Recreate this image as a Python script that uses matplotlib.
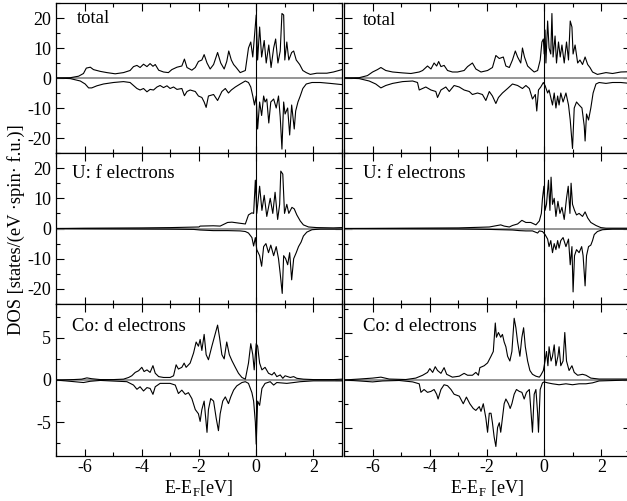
import numpy as np
import matplotlib
matplotlib.use("Agg")
import matplotlib.pyplot as plt
from matplotlib.ticker import MultipleLocator

plt.rcParams['font.family'] = ['Liberation Serif', 'DejaVu Serif']
plt.rcParams['mathtext.fontset'] = 'custom'
plt.rcParams['mathtext.rm'] = 'Liberation Serif'
plt.rcParams['axes.unicode_minus'] = False

# ---------------- data (energy in eV, DOS in states/(eV spin f.u.)) ----------------
left_total_up = [(-7.0, 0), (-6.50, 0.1), (-6.21, 0.6), (-6.04, 1.5), (-5.94, 3.3), (-5.80, 3.6),
    (-5.69, 2.8), (-5.45, 2.2), (-5.22, 1.8), (-4.93, 1.4), (-4.64, 1.8), (-4.41, 2.5), (-4.29, 3.8),
    (-4.17, 4.2), (-4.06, 3.5), (-3.94, 4.6), (-3.82, 3.8), (-3.71, 4.8), (-3.61, 3.9), (-3.53, 4.5),
    (-3.41, 2.6), (-3.24, 2.0), (-3.07, 1.8), (-2.95, 2.8), (-2.77, 3.6), (-2.60, 4.0), (-2.51, 6.3),
    (-2.42, 3.5), (-2.25, 2.6), (-2.13, 3.5), (-2.02, 5.5), (-1.90, 6.0), (-1.82, 7.8), (-1.72, 5.0),
    (-1.61, 3.0), (-1.49, 4.5), (-1.35, 8.5), (-1.24, 5.0), (-1.12, 3.0), (-1.03, 5.5), (-0.96, 9.0),
    (-0.87, 6.0), (-0.79, 4.5), (-0.70, 3.5), (-0.56, 1.8), (-0.38, 2.5), (-0.27, 10.0), (-0.19, 12.0),
    (-0.12, 7.0), (-0.06, 14.0), (0.0, 21.0), (0.05, 6.0), (0.12, 17.0), (0.19, 7.0), (0.28, 12.5),
    (0.35, 5.0), (0.44, 11.0), (0.52, 3.5), (0.61, 10.0), (0.68, 13.0), (0.76, 5.0), (0.84, 9.0),
    (0.90, 21.5), (0.96, 21.0), (1.00, 6.0), (1.07, 12.0), (1.14, 6.0), (1.24, 8.5), (1.31, 9.0),
    (1.40, 6.0), (1.52, 4.5), (1.63, 2.5), (1.75, 1.8), (1.89, 1.2), (2.12, 1.6), (2.47, 1.6),
    (2.70, 2.0), (3.0, 2.8)]
left_total_dn = [(-7.0, 0), (-6.50, -0.2), (-6.15, -1.0), (-5.98, -2.0), (-5.86, -3.3), (-5.75, -3.3),
    (-5.57, -2.6), (-5.34, -2.0), (-4.99, -1.5), (-4.64, -1.2), (-4.41, -1.5), (-4.29, -2.5),
    (-4.17, -3.5), (-4.06, -4.0), (-3.94, -3.5), (-3.82, -4.6), (-3.71, -3.8), (-3.59, -4.0),
    (-3.47, -3.0), (-3.36, -2.5), (-3.24, -3.2), (-3.12, -2.6), (-3.01, -3.5), (-2.89, -3.0),
    (-2.77, -3.8), (-2.60, -3.5), (-2.51, -5.9), (-2.42, -4.5), (-2.31, -4.0), (-2.13, -4.5),
    (-2.02, -6.0), (-1.90, -6.5), (-1.82, -8.0), (-1.75, -9.8), (-1.67, -6.0), (-1.49, -5.5),
    (-1.35, -7.5), (-1.20, -4.5), (-1.08, -3.5), (-0.97, -5.0), (-0.87, -4.0), (-0.73, -3.0),
    (-0.56, -2.0), (-0.38, -1.0), (-0.27, -1.5), (-0.19, -3.0), (-0.12, -6.0), (-0.06, -9.0),
    (0.0, -6.0), (0.05, -17.0), (0.12, -8.0), (0.19, -12.5), (0.26, -6.0), (0.31, -8.0), (0.37, -7.0),
    (0.44, -15.0), (0.51, -8.0), (0.61, -7.0), (0.70, -10.0), (0.78, -6.0), (0.84, -13.0),
    (0.90, -23.7), (0.96, -8.0), (1.01, -12.0), (1.10, -10.0), (1.17, -19.0), (1.24, -9.0),
    (1.33, -17.0), (1.38, -11.0), (1.46, -8.0), (1.54, -6.0), (1.63, -3.5), (1.75, -2.0),
    (1.95, -1.5), (2.24, -1.5), (2.59, -1.8), (3.0, -2.2)]

left_uf_up = [(-7.0, 0), (-6.0, 0.1), (-5.0, 0.15), (-4.0, 0.2), (-3.0, 0.3), (-2.0, 0.5), (-1.96, 0.8),
    (-1.5, 0.9), (-1.26, 0.8), (-1.0, 2.0), (-0.85, 2.1), (-0.62, 1.8), (-0.38, 1.5), (-0.27, 4.5),
    (-0.15, 5.2), (-0.09, 5.0), (-0.03, 16.0), (0.02, 5.0), (0.12, 14.0), (0.20, 6.0), (0.28, 11.0),
    (0.37, 4.0), (0.49, 10.0), (0.58, 5.0), (0.66, 12.0), (0.75, 3.0), (0.82, 8.0), (0.86, 19.0),
    (0.93, 18.0), (0.99, 5.0), (1.07, 8.0), (1.14, 5.0), (1.25, 7.0), (1.33, 6.5), (1.42, 4.5),
    (1.54, 2.5), (1.65, 1.2), (1.83, 0.5), (2.12, 0.3), (2.70, 0.2), (3.0, 0.3)]
left_uf_dn = [(-7.0, 0), (-5.0, -0.1), (-3.0, -0.2), (-2.19, -0.3), (-1.96, -0.5), (-1.5, -0.7),
    (-1.0, -0.7), (-0.56, -0.8), (-0.38, -1.0), (-0.27, -1.5), (-0.15, -3.0), (-0.09, -5.8),
    (-0.03, -3.0), (0.02, -7.0), (0.12, -9.0), (0.19, -12.5), (0.26, -6.0), (0.34, -5.0), (0.43, -8.0),
    (0.51, -5.5), (0.61, -9.0), (0.70, -6.0), (0.78, -10.0), (0.84, -15.0), (0.91, -21.5), (0.96, -9.0),
    (1.03, -10.0), (1.10, -12.0), (1.17, -8.0), (1.24, -17.0), (1.31, -10.0), (1.40, -8.0),
    (1.48, -6.0), (1.57, -4.5), (1.65, -2.5), (1.77, -1.2), (1.95, -0.4), (2.24, -0.2), (3.0, -0.2)]

left_cod_up = [(-7.0, 0), (-6.39, 0.05), (-6.10, 0.1), (-5.92, 0.25), (-5.75, 0.15), (-5.45, 0.05),
    (-4.99, 0.05), (-4.64, 0.1), (-4.46, 0.3), (-4.35, 0.5), (-4.23, 0.9), (-4.11, 1.1), (-4.00, 1.5),
    (-3.92, 1.0), (-3.82, 1.2), (-3.71, 0.9), (-3.61, 1.7), (-3.53, 0.8), (-3.41, 0.4), (-3.24, 0.3),
    (-3.01, 0.3), (-2.89, 0.5), (-2.80, 1.8), (-2.72, 1.3), (-2.60, 1.5), (-2.52, 2.0), (-2.45, 1.5),
    (-2.31, 2.0), (-2.19, 3.2), (-2.10, 4.5), (-2.02, 4.0), (-1.96, 4.8), (-1.90, 3.5), (-1.82, 5.4),
    (-1.75, 3.0), (-1.67, 2.4), (-1.55, 4.0), (-1.43, 5.5), (-1.35, 6.5), (-1.28, 5.0), (-1.20, 3.0),
    (-1.12, 2.5), (-1.03, 4.5), (-0.94, 3.0), (-0.85, 2.3), (-0.73, 1.5), (-0.62, 0.8), (-0.50, 0.3),
    (-0.38, 0.1), (-0.27, 2.0), (-0.19, 4.3), (-0.12, 3.0), (-0.07, 1.2), (0.0, 4.3), (0.05, 4.0),
    (0.12, 2.0), (0.20, 1.2), (0.31, 1.5), (0.43, 0.8), (0.55, 0.6), (0.63, 0.9), (0.72, 0.4),
    (0.84, 0.6), (0.93, 0.2), (1.01, 0.5), (1.19, 0.3), (1.31, 0.4), (1.42, 0.2), (1.65, 0.1),
    (2.00, 0.05), (2.70, 0.05), (3.0, 0.1)]
left_cod_dn = [(-7.0, 0), (-6.04, -0.3), (-5.80, -0.15), (-5.45, -0.05), (-4.52, -0.2), (-4.29, -0.6),
    (-4.17, -1.1), (-4.06, -0.8), (-3.94, -1.3), (-3.82, -0.9), (-3.71, -1.0), (-3.61, -1.7),
    (-3.53, -0.8), (-3.36, -0.4), (-3.01, -0.4), (-2.83, -0.6), (-2.72, -1.6), (-2.60, -1.2),
    (-2.48, -1.7), (-2.37, -1.5), (-2.25, -2.2), (-2.13, -3.5), (-2.02, -4.0), (-1.96, -4.9),
    (-1.90, -3.5), (-1.82, -2.5), (-1.72, -6.2), (-1.67, -3.5), (-1.59, -2.2), (-1.49, -2.5),
    (-1.40, -4.5), (-1.32, -6.0), (-1.26, -4.0), (-1.17, -2.5), (-1.08, -2.0), (-0.97, -2.8),
    (-0.89, -2.0), (-0.79, -1.2), (-0.68, -0.7), (-0.50, -0.3), (-0.38, -0.2), (-0.27, -0.4),
    (-0.15, -1.5), (-0.09, -2.5), (-0.03, -5.0), (0.0, -7.6), (0.05, -2.5), (0.12, -3.0), (0.20, -1.0),
    (0.31, -0.4), (0.49, -0.2), (0.61, -0.6), (0.72, -0.3), (1.07, -0.4), (1.31, -0.3), (1.54, -0.2),
    (2.00, -0.1), (3.0, -0.1)]

right_total_up = [(-7.0, 0), (-6.47, 0.1), (-6.18, 0.8), (-6.00, 2.0), (-5.83, 2.8), (-5.71, 3.5),
    (-5.54, 2.5), (-5.30, 2.0), (-4.95, 1.7), (-4.66, 1.5), (-4.37, 2.0), (-4.25, 2.5), (-4.08, 4.0),
    (-3.96, 3.0), (-3.85, 5.0), (-3.76, 4.0), (-3.69, 5.5), (-3.61, 3.8), (-3.50, 4.2), (-3.38, 2.5),
    (-3.21, 2.0), (-3.03, 2.0), (-2.80, 2.5), (-2.68, 3.8), (-2.51, 5.0), (-2.39, 3.0), (-2.21, 2.0),
    (-1.98, 2.5), (-1.81, 3.5), (-1.69, 7.5), (-1.57, 6.5), (-1.43, 7.0), (-1.34, 4.0), (-1.22, 3.5),
    (-1.11, 6.0), (-1.01, 9.0), (-0.93, 7.0), (-0.82, 5.0), (-0.76, 10.0), (-0.69, 7.0), (-0.58, 4.0),
    (-0.47, 3.0), (-0.35, 2.0), (-0.23, 2.5), (-0.14, 6.0), (-0.08, 12.0), (-0.03, 13.0), (0.0, 8.0),
    (0.03, 16.0), (0.06, 5.0), (0.12, 19.0), (0.17, 10.0), (0.23, 8.0), (0.27, 21.5), (0.31, 7.0),
    (0.38, 14.0), (0.43, 5.0), (0.50, 12.0), (0.56, 7.0), (0.62, 11.0), (0.70, 5.0), (0.78, 12.0),
    (0.85, 6.0), (0.91, 19.0), (0.97, 17.0), (1.01, 8.0), (1.08, 11.0), (1.17, 5.0), (1.25, 6.0),
    (1.34, 4.5), (1.43, 7.0), (1.52, 4.5), (1.60, 3.5), (1.69, 2.0), (1.86, 1.2), (2.16, 1.8),
    (2.39, 1.5), (2.68, 2.0), (3.0, 2.1)]
right_total_dn = [(-7.0, 0), (-6.47, -0.2), (-6.12, -1.0), (-5.89, -2.0), (-5.71, -3.3), (-5.54, -2.5),
    (-5.30, -1.8), (-4.95, -1.2), (-4.60, -1.0), (-4.43, -1.5), (-4.37, -4.0), (-4.14, -3.0),
    (-3.96, -4.0), (-3.79, -4.5), (-3.73, -6.5), (-3.61, -4.0), (-3.44, -3.0), (-3.32, -4.5),
    (-3.15, -2.5), (-2.97, -3.0), (-2.80, -4.0), (-2.62, -4.5), (-2.51, -5.5), (-2.33, -5.0),
    (-2.16, -5.5), (-2.04, -7.5), (-1.92, -4.5), (-1.81, -6.0), (-1.69, -8.5), (-1.60, -6.5),
    (-1.46, -5.0), (-1.28, -3.5), (-1.11, -2.0), (-0.93, -2.5), (-0.76, -3.5), (-0.64, -2.5),
    (-0.52, -3.5), (-0.41, -7.0), (-0.31, -5.5), (-0.26, -11.0), (-0.20, -4.0), (-0.12, -3.0),
    (-0.03, -1.5), (0.03, -2.5), (0.12, -5.0), (0.17, -4.0), (0.23, -6.5), (0.29, -9.0), (0.35, -5.0),
    (0.41, -10.0), (0.47, -6.0), (0.52, -9.0), (0.58, -5.0), (0.66, -8.0), (0.76, -5.0), (0.85, -9.0),
    (0.91, -14.0), (0.99, -23.5), (1.05, -10.0), (1.13, -8.0), (1.22, -9.0), (1.32, -10.0),
    (1.40, -16.0), (1.43, -21.0), (1.48, -12.0), (1.55, -14.0), (1.63, -10.0), (1.71, -5.0),
    (1.81, -2.0), (1.92, -1.5), (2.16, -1.8), (2.39, -1.5), (2.68, -1.5), (3.0, -1.8)]

right_uf_up = [(-7.0, 0), (-5.0, 0.1), (-3.0, 0.2), (-2.27, 0.4), (-1.92, 0.5), (-1.52, 1.2),
    (-1.40, 0.8), (-1.22, 0.5), (-1.11, 1.0), (-0.93, 1.5), (-0.78, 2.7), (-0.64, 2.0), (-0.47, 2.0),
    (-0.29, 1.2), (-0.17, 2.5), (-0.10, 5.0), (-0.06, 10.0), (-0.01, 14.0), (0.03, 6.0), (0.08, 8.0),
    (0.15, 16.0), (0.20, 6.0), (0.24, 17.0), (0.29, 8.0), (0.35, 10.0), (0.41, 4.0), (0.48, 9.0),
    (0.55, 5.0), (0.62, 7.0), (0.70, 3.0), (0.78, 10.0), (0.84, 14.0), (0.90, 5.0), (0.94, 15.0),
    (0.99, 8.0), (1.06, 6.0), (1.13, 4.5), (1.22, 5.0), (1.34, 4.0), (1.43, 5.5), (1.52, 3.5),
    (1.63, 2.0), (1.81, 1.0), (1.98, 0.3), (2.16, 0.1), (3.0, 0.1)]
right_uf_dn = [(-7.0, 0), (-5.0, -0.05), (-3.0, -0.15), (-1.92, -0.3), (-1.11, -0.5), (-0.87, -0.7),
    (-0.64, -0.8), (-0.41, -0.8), (-0.23, -1.5), (-0.17, -0.8), (-0.06, -1.0), (0.03, -2.0),
    (0.12, -3.5), (0.17, -6.0), (0.23, -4.0), (0.29, -8.0), (0.35, -5.0), (0.41, -7.0), (0.47, -4.0),
    (0.52, -6.5), (0.58, -4.0), (0.66, -3.0), (0.76, -6.0), (0.85, -3.5), (0.91, -12.0), (0.97, -6.0),
    (1.01, -21.0), (1.06, -9.0), (1.13, -7.0), (1.22, -8.0), (1.31, -6.0), (1.36, -9.0), (1.43, -19.0),
    (1.48, -9.0), (1.55, -6.0), (1.63, -5.5), (1.69, -4.0), (1.75, -2.0), (1.86, -1.0), (2.04, -0.4),
    (2.39, -0.2), (3.0, -0.2)]

right_cod_up = [(-7.0, 0), (-6.47, 0.1), (-6.0, 0.2), (-5.71, 0.3), (-5.42, 0.1), (-4.84, 0.05),
    (-4.49, 0.2), (-4.25, 0.5), (-4.08, 0.8), (-4.00, 1.2), (-3.90, 0.8), (-3.81, 1.4), (-3.73, 1.0),
    (-3.61, 0.7), (-3.50, 1.3), (-3.41, 0.6), (-3.21, 0.3), (-2.97, 0.4), (-2.80, 0.7), (-2.68, 0.5),
    (-2.51, 0.5), (-2.39, 0.8), (-2.30, 0.5), (-2.25, 1.3), (-2.10, 1.5), (-1.98, 1.8), (-1.86, 2.5),
    (-1.78, 3.0), (-1.71, 6.0), (-1.67, 4.5), (-1.60, 5.0), (-1.52, 4.5), (-1.46, 4.8), (-1.40, 4.0),
    (-1.34, 3.5), (-1.28, 2.5), (-1.20, 2.0), (-1.13, 3.0), (-1.05, 6.5), (-0.99, 5.5), (-0.93, 4.0),
    (-0.85, 2.5), (-0.78, 4.5), (-0.72, 5.5), (-0.66, 3.5), (-0.58, 2.0), (-0.50, 1.0), (-0.41, 0.6),
    (-0.29, 0.4), (-0.17, 0.3), (-0.12, 0.5), (-0.03, 1.0), (0.03, 2.0), (0.08, 3.0), (0.13, 1.5),
    (0.17, 3.5), (0.24, 2.0), (0.29, 2.5), (0.35, 3.7), (0.41, 1.5), (0.48, 2.5), (0.52, 3.5),
    (0.58, 1.5), (0.66, 2.0), (0.72, 5.0), (0.78, 2.0), (0.87, 1.0), (0.97, 1.5), (1.05, 0.8),
    (1.17, 0.5), (1.34, 0.6), (1.46, 0.5), (1.63, 0.2), (1.92, 0.1), (3.0, 0.1)]
right_cod_dn = [(-7.0, 0), (-6.47, -0.1), (-6.0, -0.2), (-5.65, -0.1), (-5.07, -0.05), (-4.60, -0.2),
    (-4.37, -0.4), (-4.31, -1.3), (-4.20, -1.0), (-4.08, -1.3), (-3.96, -1.2), (-3.85, -1.0),
    (-3.76, -1.5), (-3.71, -2.0), (-3.61, -1.0), (-3.50, -0.5), (-3.38, -0.6), (-3.26, -1.0),
    (-3.15, -1.5), (-2.97, -1.7), (-2.83, -2.5), (-2.72, -1.8), (-2.60, -2.5), (-2.48, -3.0),
    (-2.39, -3.2), (-2.27, -2.8), (-2.21, -3.3), (-2.13, -2.5), (-2.04, -4.0), (-1.98, -5.5),
    (-1.92, -3.5), (-1.86, -3.5), (-1.81, -4.5), (-1.75, -6.0), (-1.69, -7.0), (-1.63, -5.0),
    (-1.57, -4.5), (-1.52, -5.5), (-1.46, -4.0), (-1.40, -2.5), (-1.34, -2.0), (-1.25, -2.5),
    (-1.19, -3.0), (-1.13, -2.5), (-1.05, -1.5), (-0.97, -1.0), (-0.87, -1.2), (-0.78, -1.3),
    (-0.70, -2.0), (-0.62, -1.3), (-0.52, -1.0), (-0.47, -3.0), (-0.41, -5.5), (-0.35, -1.5),
    (-0.29, -1.0), (-0.23, -3.5), (-0.20, -5.5), (-0.14, -1.0), (-0.06, -0.3), (0.0, -0.2),
    (0.12, -0.3), (0.29, -0.4), (0.52, -0.5), (0.76, -0.4), (0.99, -0.5), (1.22, -0.4), (1.46, -0.4),
    (1.69, -0.3), (1.92, -0.1), (3.0, 0)]

panel_labels = ["total", "U: f electrons", "Co: d electrons"]
xlabels = ["E-E$_{\\rm F}$[eV]", "E-E$_{\\rm F}$ [eV]"]
ylabel = "DOS [states/(eV ·spin· f.u.)]"

# ---------------- layout (pixel geometry of the reference) ----------------
W, H = 627, 501
fig = plt.figure(figsize=(W / 100, H / 100), dpi=100)

def rect(x0, top, w, h):
    return [x0 / W, 1 - (top + h) / H, w / W, h / H]

col_x = [56, 344]
col_w = 286
row_top = [3, 153, 304]
row_h = [150, 151, 152]
ylims = [[(-25, 25), (-25, 25), (-9, 9)], [(-25, 25), (-25, 25), (-8, 8)]]

series = [[(left_total_up, left_total_dn), (left_uf_up, left_uf_dn), (left_cod_up, left_cod_dn)],
          [(right_total_up, right_total_dn), (right_uf_up, right_uf_dn), (right_cod_up, right_cod_dn)]]

label_pos = [[(77, 22.7), (72, 178.3), (72, 331)], [(363, 25), (363, 178.3), (363, 331)]]

for c in range(2):
    for r in range(3):
        ax = fig.add_axes(rect(col_x[c], row_top[r], col_w, row_h[r]))
        up, dn = series[c][r]
        for s in (up, dn):
            arr = np.array(s, dtype=float)
            ax.plot(arr[:, 0], arr[:, 1], color='black', lw=0.8, zorder=3)
        ax.axhline(0, color='#8c8c8c', lw=1.3, zorder=2)
        ax.axvline(0, color='black', lw=0.8, zorder=2)
        ax.set_xlim(-7, 3)
        ax.set_ylim(*ylims[c][r])
        ax.xaxis.set_major_locator(MultipleLocator(2))
        ax.xaxis.set_minor_locator(MultipleLocator(1))
        if r < 2:
            ax.yaxis.set_major_locator(MultipleLocator(10))
            ax.yaxis.set_minor_locator(MultipleLocator(5))
        else:
            ax.yaxis.set_major_locator(MultipleLocator(5))
            ax.yaxis.set_minor_locator(MultipleLocator(2.5))
        ax.tick_params(which='both', direction='in', top=True, right=True, width=0.8,
                       labelsize=13, pad=3.5)
        ax.tick_params(axis='x', pad=2.5)
        ax.tick_params(which='major', length=5.4)
        ax.tick_params(which='minor', length=3.0)
        if r < 2:
            ax.tick_params(labelbottom=False)
        if c == 1:
            ax.tick_params(labelleft=False)
        for sp in ax.spines.values():
            sp.set_linewidth(0.9)
        lx, ly = label_pos[c][r]
        fig.text(lx / W, 1 - ly / H, panel_labels[r], fontsize=13.5, ha='left', va='baseline')

fig.text(199 / W, 1 - 488 / H, xlabels[0], fontsize=13, ha='center', va='center')
fig.text(487 / W, 1 - 488 / H, xlabels[1], fontsize=13, ha='center', va='center')
fig.text(16 / W, 1 - 230 / H, ylabel, fontsize=13.3, rotation=90, ha='center', va='center')

fig.savefig("out.png", dpi=100)
